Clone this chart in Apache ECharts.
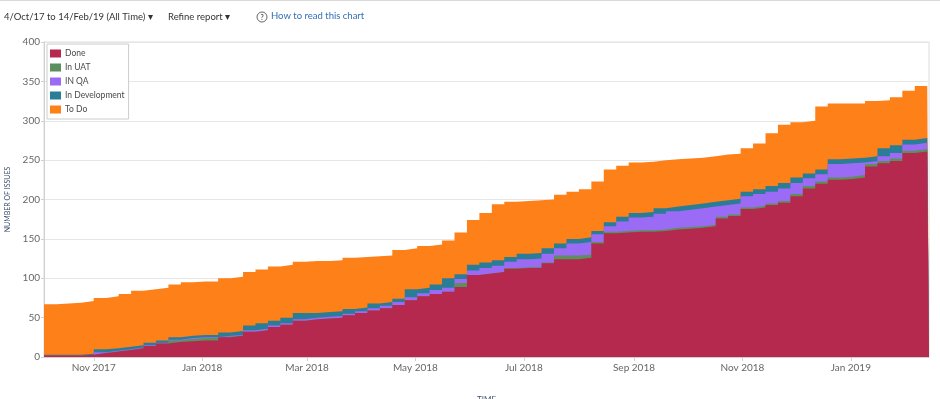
<!DOCTYPE html>
<html>
<head>
<meta charset="utf-8">
<script src="https://cdn.jsdelivr.net/npm/echarts@6/dist/echarts.min.js"></script>
<style>
html,body{margin:0;padding:0;background:#fff;}
#chart{width:940px;height:399px;}
</style>
</head>
<body>
<div id="chart"></div>
<script>
const dates = ['2017-10-04','2017-10-11','2017-10-18','2017-10-25','2017-11-01','2017-11-08','2017-11-15','2017-11-22','2017-11-29','2017-12-06','2017-12-13','2017-12-20','2017-12-27',
'2018-01-03','2018-01-10','2018-01-17','2018-01-24','2018-01-31','2018-02-07','2018-02-14','2018-02-21','2018-02-28','2018-03-07','2018-03-14','2018-03-21','2018-03-28',
'2018-04-04','2018-04-11','2018-04-18','2018-04-25','2018-05-02','2018-05-09','2018-05-16','2018-05-23','2018-05-30','2018-06-06','2018-06-13','2018-06-20','2018-06-27',
'2018-07-04','2018-07-11','2018-07-18','2018-07-25','2018-08-01','2018-08-08','2018-08-15','2018-08-22','2018-08-29','2018-09-05','2018-09-12','2018-09-19','2018-09-26',
'2018-10-03','2018-10-10','2018-10-17','2018-10-24','2018-10-31','2018-11-07','2018-11-14','2018-11-21','2018-11-28','2018-12-05','2018-12-12','2018-12-19','2018-12-26',
'2019-01-02','2019-01-09','2019-01-16','2019-01-23','2019-01-30','2019-02-06','2019-02-13','2019-02-14'];

const done = [2,2,2,3,5,7,9,11,14,17,19,20,21,21,25,27,32,34,38,41,46,48,49,50,53,56,59,62,66,72,77,80,83,89,104,106,108,112,113,113,119,124,124,126,144,157,158,159,159,160,162,163,164,166,176,179,188,190,193,196,204,214,220,225,226,228,242,246,249,259,261,263,263];
const inUat = [0,0,0,0,0,0,0,0,0,0,2,3,3,3,1,0,0,0,0,0,0,0,0,0,0,0,0,0,0,0,0,0,0,5,0,0,0,1,1,1,1,5,5,4,2,2,2,2,2,2,2,2,2,2,2,2,2,2,2,2,3,3,3,3,3,3,3,3,3,3,3,3,3];
const inQa = [0,0,0,0,1,1,1,1,1,1,1,1,1,1,1,1,2,2,2,2,2,2,2,2,2,2,3,3,4,4,4,5,5,5,6,7,8,8,10,11,11,9,15,16,10,7,12,16,17,20,21,22,23,23,15,14,14,15,15,16,14,10,9,17,17,16,4,6,7,8,8,7,7];
const inDev = [1,1,1,1,4,3,3,3,3,3,3,3,3,3,4,5,6,7,6,7,8,6,6,6,6,5,6,5,4,10,7,7,12,6,7,7,7,6,7,7,7,6,6,6,4,5,6,6,6,7,6,6,6,6,6,6,6,6,7,7,7,6,6,6,6,6,6,10,10,6,6,6,6];
const toDo = [64,65,66,67,65,66,67,69,68,67,67,68,68,68,69,69,68,68,69,67,65,66,65,65,65,64,60,59,62,52,53,51,48,53,57,63,71,70,67,67,62,62,60,61,63,67,65,64,64,61,60,59,58,58,58,57,55,58,67,74,70,67,80,71,70,69,70,61,61,62,66,69,71];

const tickDates = ['2017-11-01','2018-01-01','2018-03-01','2018-05-01','2018-07-01','2018-09-01','2018-11-01','2019-01-01'];
const tickLabels = ['Nov 2017','Jan 2018','Mar 2018','May 2018','Jul 2018','Sep 2018','Nov 2018','Jan 2019'];

const seriesNames = ['Done','In UAT','IN QA','In Development','To Do'];
const seriesColors = ['#b5294e','#5b8f5b','#9b6bf5','#2a7d96','#fd8019'];
const seriesValues = [done, inUat, inQa, inDev, toDo];

// Stack the layers (bottom to top): each layer's top edge is the running sum.
const stackedTops = seriesValues.map((arr, k) =>
  dates.map((d, i) => seriesValues.slice(0, k + 1).reduce((s, a) => s + a[i], 0))
);

const toTime = d => echarts.number.parseDate(d).getTime();
const tickTimes = tickDates.map(toTime);
const xMin = toTime('2017-10-04');
const xMax = toTime('2019-02-14');

const chart = echarts.init(document.getElementById('chart'), null, {renderer:'canvas'});
const FONT = 'Lato, "Open Sans", sans-serif';

// Draw top layer first so lower layers paint over it (no seams between layers).
const order = [4, 3, 2, 1, 0];

chart.setOption({
  animation: false,
  textStyle: {fontFamily: FONT},
  graphic: [
    {type:'rect', shape:{x:0,y:0,width:940,height:1}, style:{fill:'#d9d9d9'}},
    {type:'text', left:4, top:12, style:{text:'4/Oct/17 to 14/Feb/19 (All Time) \u25BE', font:'9.5px ' + FONT, fill:'#333'}},
    {type:'text', left:168, top:12, style:{text:'Refine report \u25BE', font:'9.5px ' + FONT, fill:'#333'}},
    {type:'circle', shape:{cx:262, cy:17, r:5}, style:{fill:'none', stroke:'#555', lineWidth:0.9}},
    {type:'text', x:262, y:17.5, style:{text:'?', font:'bold 7px ' + FONT, fill:'#555', align:'center', verticalAlign:'middle'}},
    {type:'text', left:271, top:11, style:{text:'How to read this chart', font:'9.5px ' + FONT, fill:'#2f6fb6'}}
  ],
  legend: {
    orient:'vertical', left:47, top:44,
    data: seriesNames,
    backgroundColor:'#fff', borderColor:'#ccc', borderWidth:1, padding:[5,4,5,3],
    itemWidth:11, itemHeight:8, itemGap:5,
    icon:'rect',
    textStyle:{fontSize:8.5, color:'#4a4a4a', fontFamily:FONT, padding:[0,0,0,-1]}
  },
  grid: {left:44, right:11, top:42, bottom:42, containLabel:false, outerBoundsMode:'none',
         show:true, borderColor:'#dcdcdc', borderWidth:1, backgroundColor:'transparent'},
  xAxis: [
    {
      type:'time', position:'top',
      min: xMin, max: xMax,
      axisLine:{show:false}, axisTick:{show:false}, axisLabel:{show:false}, splitLine:{show:false}
    },
    {
      type:'value', position:'bottom',
      min: xMin, max: xMax,
      name:'TIME', nameLocation:'middle', nameGap:38,
      nameTextStyle:{fontSize:8, color:'#44546f'},
      axisLine:{show:true, lineStyle:{color:'#d0d0d0'}},
      axisTick:{show:true, customValues: tickTimes, length:4, lineStyle:{color:'#d0d0d0'}},
      axisLabel:{
        customValues: tickTimes, color:'#666', fontSize:10, margin:6,
        formatter: v => { const i = tickTimes.indexOf(v); return i >= 0 ? tickLabels[i] : ''; }
      },
      splitLine:{show:false}
    }
  ],
  yAxis: {
    type:'value', min:0, max:400, interval:50,
    name:'NUMBER OF ISSUES', nameLocation:'middle', nameGap:26,
    nameTextStyle:{fontSize:7, color:'#3d4d6b'},
    axisLine:{show:true, lineStyle:{color:'#d0d0d0'}},
    axisTick:{show:true, length:3, lineStyle:{color:'#d0d0d0'}},
    axisLabel:{color:'#666', fontSize:10, margin:4},
    splitLine:{show:true, lineStyle:{color:'#e6e6e6'}}
  },
  series: order.map(k => ({
    name: seriesNames[k],
    type:'line',
    xAxisIndex:0,
    step:'end',
    showSymbol:false,
    symbol:'none',
    color: seriesColors[k],
    lineStyle:{width:0, opacity:0},
    areaStyle:{color: seriesColors[k], opacity:1, origin:'start'},
    data: dates.map((d, i) => [d, stackedTops[k][i]])
  }))
});
</script>
</body>
</html>
